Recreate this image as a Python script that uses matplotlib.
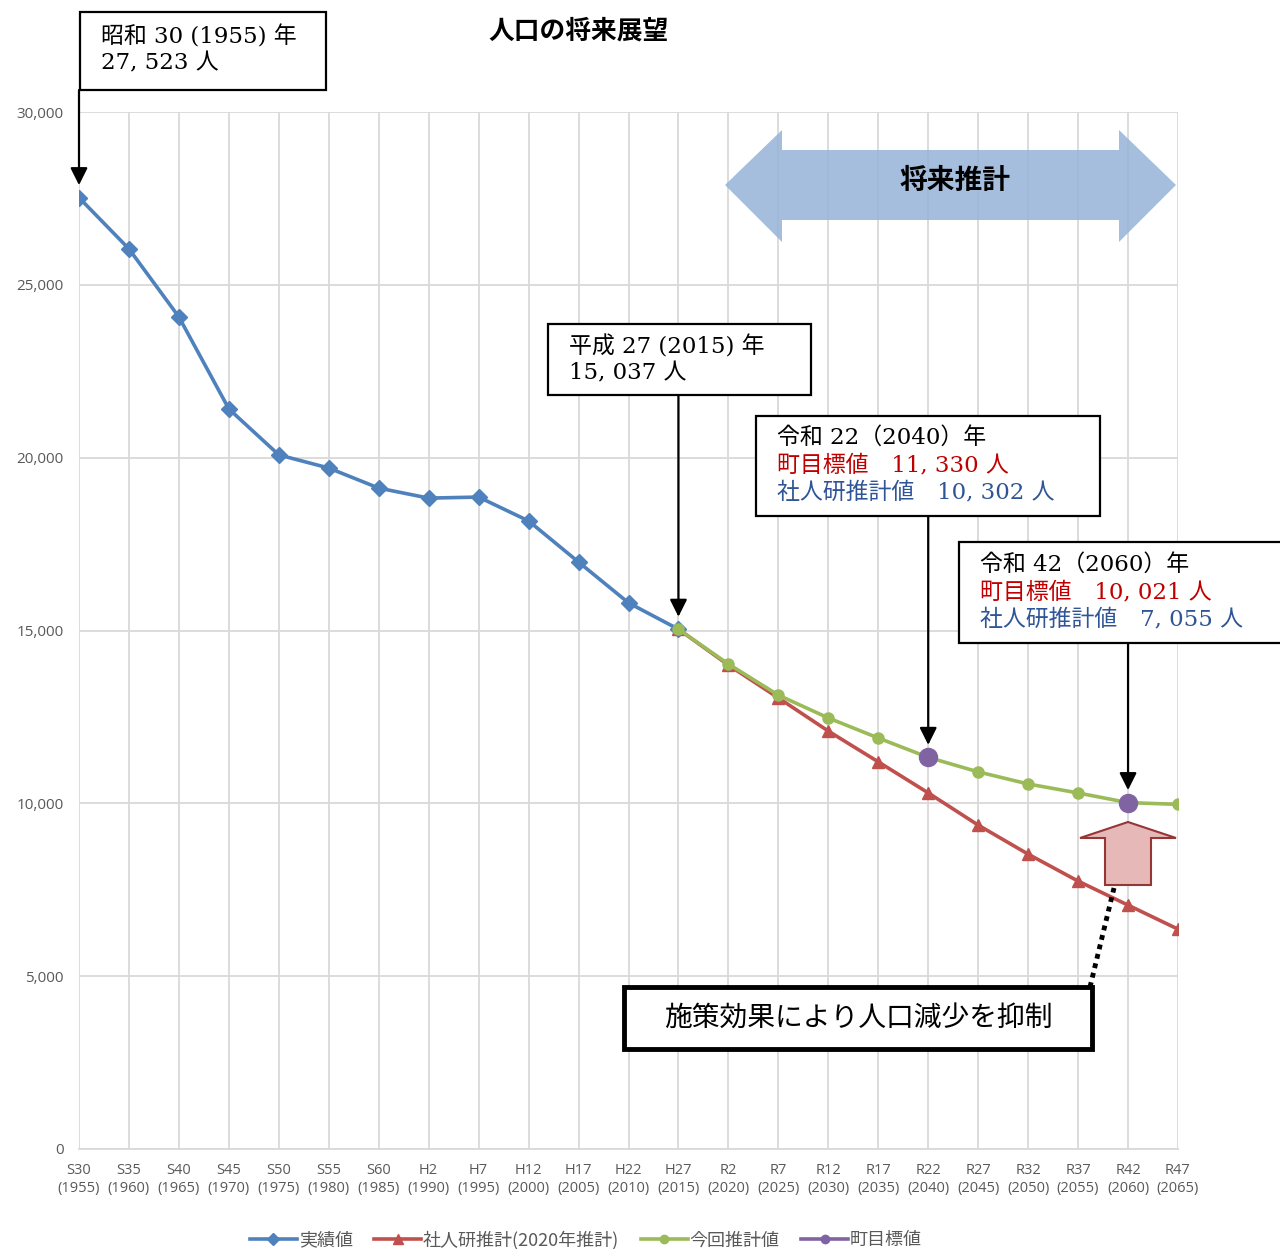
import matplotlib
matplotlib.use("Agg")
import matplotlib.pyplot as plt
import matplotlib.patches as mpatches
from matplotlib.lines import Line2D
import numpy as np

plt.rcParams['font.family'] = ['Noto Sans CJK JP', 'DejaVu Sans']

eras = ['S30', 'S35', 'S40', 'S45', 'S50', 'S55', 'S60', 'H2', 'H7', 'H12', 'H17', 'H22',
        'H27', 'R2', 'R7', 'R12', 'R17', 'R22', 'R27', 'R32', 'R37', 'R42', 'R47']
years = [1955, 1960, 1965, 1970, 1975, 1980, 1985, 1990, 1995, 2000, 2005, 2010,
         2015, 2020, 2025, 2030, 2035, 2040, 2045, 2050, 2055, 2060, 2065]

# 実績値 (S30 - H27)
actual = [27523, 26040, 24070, 21410, 20080, 19700, 19120, 18830, 18860, 18170, 16980, 15800, 15037]
# 社人研推計 (H27 - R47)
ipss = [15037, 14000, 13050, 12090, 11200, 10302, 9370, 8530, 7750, 7055, 6360]
# 今回推計値 (H27 - R47)
current = [15037, 14030, 13130, 12470, 11890, 11330, 10910, 10560, 10300, 10021, 9970]
# 町目標値
target_idx = [17, 21]
target = [11330, 10021]

BLUE = '#4f81bd'
RED = '#c0504d'
GREEN = '#9bbb59'
PURPLE = '#8064a2'
GRID = '#d9d9d9'
TICK = '#595959'

W, H = 1280, 1249
fig = plt.figure(figsize=(W / 100, H / 100), dpi=100)


def fx(x):
    return x / W


def fy(y):
    return 1 - y / H


ax = fig.add_axes([fx(79), fy(1149), fx(1178) - fx(79), fy(112) - fy(1149)])

x_act = np.arange(len(actual))
x_fut = np.arange(12, 12 + len(ipss))

ax.plot(x_act, actual, color=BLUE, lw=2.6, marker='D', ms=8, zorder=3)
ax.plot(x_fut, ipss, color=RED, lw=2.6, marker='^', ms=9, zorder=3)
ax.plot(x_fut, current, color=GREEN, lw=2.6, marker='o', ms=8, zorder=4)
ax.plot(target_idx, target, color=PURPLE, lw=0, marker='o', ms=13, zorder=5)

ax.set_xlim(0, 22)
ax.set_ylim(0, 30000)
ax.set_xticks(range(len(eras)))
ax.set_xticklabels([f'{e}\n({y})' for e, y in zip(eras, years)],
                   fontsize=10.5, color=TICK, family=['Open Sans', 'DejaVu Sans'], linespacing=1.25)
ax.set_yticks(range(0, 30001, 5000))
ax.set_yticklabels([f'{v:,}' for v in range(0, 30001, 5000)],
                   fontsize=11, color=TICK, family=['Open Sans', 'DejaVu Sans'])
ax.tick_params(length=0, pad=10)
ax.tick_params(axis='y', pad=11)
ax.grid(True, color=GRID, lw=1.3)
for s in ['top', 'right', 'left']:
    ax.spines[s].set_visible(False)
ax.spines['bottom'].set_color(GRID)
ax.spines['bottom'].set_linewidth(1.3)

fig.text(fx(579), fy(31), '人口の将来展望', ha='center', va='center',
         fontsize=18.5, fontweight='bold')

SERIF = ['DejaVu Serif', 'Noto Sans CJK JP']


def box(x0, y0, x1, y1, lw=1.6):
    r = mpatches.Rectangle((fx(x0), fy(y1)), fx(x1) - fx(x0), fy(y0) - fy(y1),
                           transform=fig.transFigure, facecolor='white',
                           edgecolor='black', lw=lw, zorder=6)
    fig.add_artist(r)


def lines(x, ys, texts, colors, size=16.5):
    for y, t, c in zip(ys, texts, colors):
        fig.text(fx(x), fy(y), t, ha='left', va='center', fontsize=size,
                 color=c, family=SERIF, zorder=7)


def pointer(x_data, y_data, y_top):
    ax.annotate('', xy=(x_data, y_data), xycoords='data',
                xytext=(ax.transData.transform((x_data, 0))[0] / W, fy(y_top)),
                textcoords='figure fraction',
                arrowprops=dict(arrowstyle='-|>', color='black', lw=1.6,
                                mutation_scale=26, shrinkA=0, shrinkB=9),
                zorder=6, annotation_clip=False)


fig.canvas.draw()

# box 1
box(80, 12, 326, 90)
lines(101, [37, 63], ['昭和 30 (1955) 年', '27, 523 人'], ['black', 'black'])
pointer(0, actual[0], 90)

# box 2
box(548, 324, 811, 395)
lines(569, [347, 373], ['平成 27 (2015) 年', '15, 037 人'], ['black', 'black'])
pointer(12, actual[12], 395)

# box 3
box(756, 416, 1100, 516)
lines(777, [438, 465, 492], ['令和 22（2040）年', '町目標値　11, 330 人', '社人研推計値　10, 302 人'],
      ['black', '#c00000', '#2f5597'])
pointer(17, target[0], 516)

# box 4
box(959, 542, 1284, 643)
lines(980, [565, 592, 619], ['令和 42（2060）年', '町目標値　10, 021 人', '社人研推計値　7, 055 人'],
      ['black', '#c00000', '#2f5597'])
pointer(21, target[1], 643)

# 将来推計 double arrow
dbl = [(725, 185), (782, 130), (782, 150), (1119, 150), (1119, 130), (1176, 185),
       (1119, 242), (1119, 220), (782, 220), (782, 242)]
fig.add_artist(mpatches.Polygon([(fx(a), fy(b)) for a, b in dbl], closed=True,
                                transform=fig.transFigure, facecolor='#95b3d7',
                                alpha=0.85, edgecolor='none', zorder=5))
fig.text(fx(955), fy(181), '将来推計', ha='center', va='center', fontsize=20,
         fontweight='bold', zorder=7)

# dotted connector
fig.add_artist(Line2D([fx(1090), fx(1114)], [fy(987), fy(888)], transform=fig.transFigure,
                      color='black', lw=3.5, linestyle=(0, (1, 1)), zorder=6))

# up arrow
up = [(1128, 822), (1176, 838), (1151, 838), (1151, 885), (1105, 885), (1105, 838), (1080, 838)]
fig.add_artist(mpatches.Polygon([(fx(a), fy(b)) for a, b in up], closed=True,
                                transform=fig.transFigure, facecolor='#e6b8b7',
                                edgecolor='#953735', lw=1.5, zorder=6))

box(624, 987, 1092, 1049, lw=3.5)
fig.text(fx(858), fy(1018), '施策効果により人口減少を抑制', ha='center', va='center',
         fontsize=20, family=SERIF, zorder=7)

handles = [
    Line2D([], [], color=BLUE, lw=2.6, marker='D', ms=6),
    Line2D([], [], color=RED, lw=2.6, marker='^', ms=7),
    Line2D([], [], color=GREEN, lw=2.6, marker='o', ms=6),
    Line2D([], [], color=PURPLE, lw=2.6, marker='o', ms=6),
]
labels = ['実績値', '社人研推計(2020年推計)', '今回推計値', '町目標値']
leg = fig.legend(handles, labels, loc='center', bbox_to_anchor=(fx(586), fy(1240)),
                 ncol=4, frameon=False, fontsize=13, handlelength=2.6,
                 handletextpad=0.1, columnspacing=1.2)
for t in leg.get_texts():
    t.set_color(TICK)

fig.savefig('out.png', dpi=100)
